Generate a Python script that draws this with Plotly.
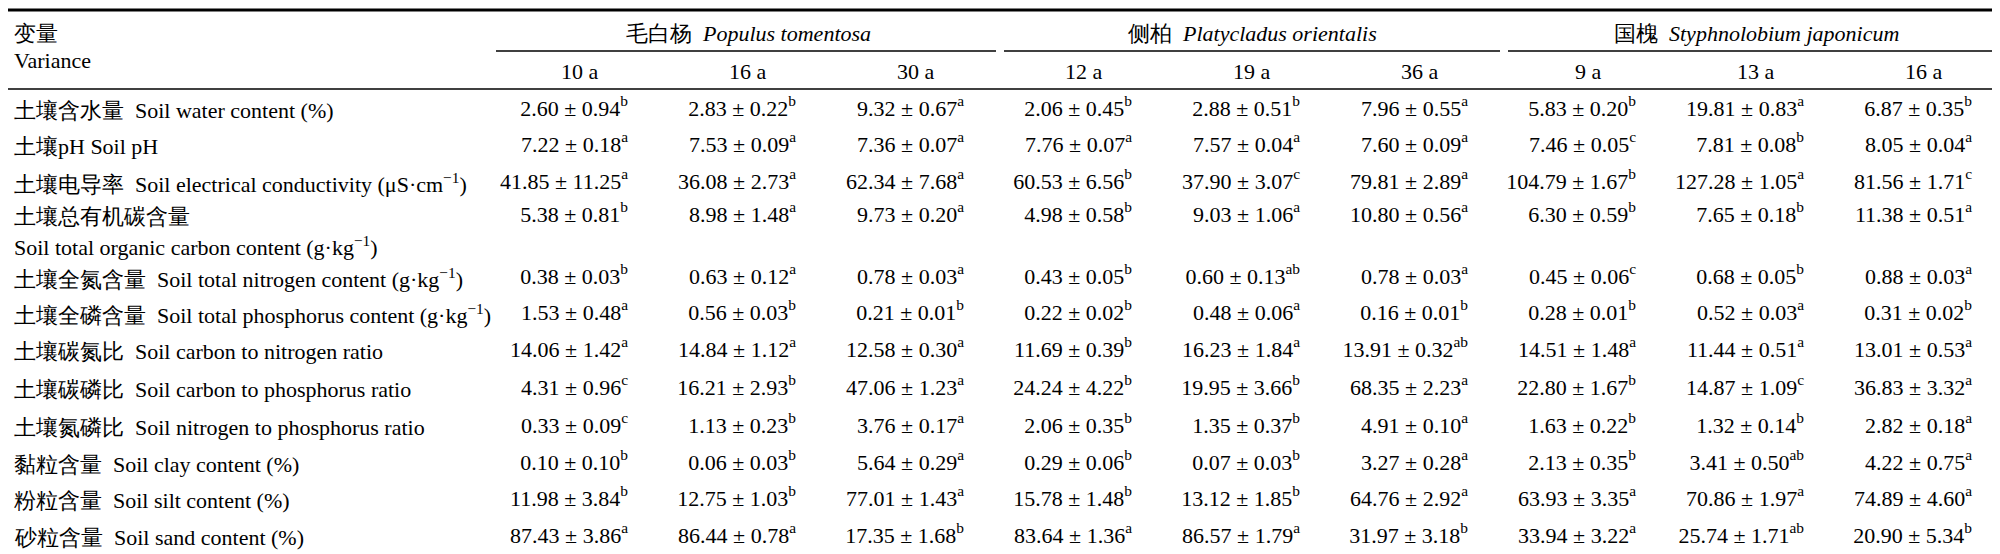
import plotly.graph_objects as go

# table content
SPECIES = [
    "毛白杨\u00a0 <i>Populus tomentosa</i>",
    "侧柏\u00a0 <i>Platycladus orientalis</i>",
    "国槐\u00a0 <i>Styphnolobium japonicum</i>",
]
AGES = ["10 a", "16 a", "30 a", "12 a", "19 a", "36 a", "9 a", "13 a", "16 a"]

VARIABLES = [
    "土壤含水量\u00a0 Soil water content (%)",
    "土壤pH Soil pH",
    "土壤电导率\u00a0 Soil electrical conductivity (μS·cm<sup>−1</sup>)",
    "土壤总有机碳含量",
    "土壤全氮含量\u00a0 Soil total nitrogen content (g·kg<sup>−1</sup>)",
    "土壤全磷含量\u00a0 Soil total phosphorus content (g·kg<sup>−1</sup>)",
    "土壤碳氮比\u00a0 Soil carbon to nitrogen ratio",
    "土壤碳磷比\u00a0 Soil carbon to phosphorus ratio",
    "土壤氮磷比\u00a0 Soil nitrogen to phosphorus ratio",
    "黏粒含量\u00a0 Soil clay content (%)",
    "粉粒含量\u00a0 Soil silt content (%)",
    "砂粒含量\u00a0 Soil sand content (%)",
]
TOC_SECOND_LINE = "Soil total organic carbon content (g·kg<sup>−1</sup>)"

MEANS = [
    [2.60, 2.83, 9.32, 2.06, 2.88, 7.96, 5.83, 19.81, 6.87],
    [7.22, 7.53, 7.36, 7.76, 7.57, 7.60, 7.46, 7.81, 8.05],
    [41.85, 36.08, 62.34, 60.53, 37.90, 79.81, 104.79, 127.28, 81.56],
    [5.38, 8.98, 9.73, 4.98, 9.03, 10.80, 6.30, 7.65, 11.38],
    [0.38, 0.63, 0.78, 0.43, 0.60, 0.78, 0.45, 0.68, 0.88],
    [1.53, 0.56, 0.21, 0.22, 0.48, 0.16, 0.28, 0.52, 0.31],
    [14.06, 14.84, 12.58, 11.69, 16.23, 13.91, 14.51, 11.44, 13.01],
    [4.31, 16.21, 47.06, 24.24, 19.95, 68.35, 22.80, 14.87, 36.83],
    [0.33, 1.13, 3.76, 2.06, 1.35, 4.91, 1.63, 1.32, 2.82],
    [0.10, 0.06, 5.64, 0.29, 0.07, 3.27, 2.13, 3.41, 4.22],
    [11.98, 12.75, 77.01, 15.78, 13.12, 64.76, 63.93, 70.86, 74.89],
    [87.43, 86.44, 17.35, 83.64, 86.57, 31.97, 33.94, 25.74, 20.90],
]
SES = [
    [0.94, 0.22, 0.67, 0.45, 0.51, 0.55, 0.20, 0.83, 0.35],
    [0.18, 0.09, 0.07, 0.07, 0.04, 0.09, 0.05, 0.08, 0.04],
    [11.25, 2.73, 7.68, 6.56, 3.07, 2.89, 1.67, 1.05, 1.71],
    [0.81, 1.48, 0.20, 0.58, 1.06, 0.56, 0.59, 0.18, 0.51],
    [0.03, 0.12, 0.03, 0.05, 0.13, 0.03, 0.06, 0.05, 0.03],
    [0.48, 0.03, 0.01, 0.02, 0.06, 0.01, 0.01, 0.03, 0.02],
    [1.42, 1.12, 0.30, 0.39, 1.84, 0.32, 1.48, 0.51, 0.53],
    [0.96, 2.93, 1.23, 4.22, 3.66, 2.23, 1.67, 1.09, 3.32],
    [0.09, 0.23, 0.17, 0.35, 0.37, 0.10, 0.22, 0.14, 0.18],
    [0.10, 0.03, 0.29, 0.06, 0.03, 0.28, 0.35, 0.50, 0.75],
    [3.84, 1.03, 1.43, 1.48, 1.85, 2.92, 3.35, 1.97, 4.60],
    [3.86, 0.78, 1.68, 1.36, 1.79, 3.18, 3.22, 1.71, 5.34],
]
LETTERS = [
    ["b", "b", "a", "b", "b", "a", "b", "a", "b"],
    ["a", "a", "a", "a", "a", "a", "c", "b", "a"],
    ["a", "a", "a", "b", "c", "a", "b", "a", "c"],
    ["b", "a", "a", "b", "a", "a", "b", "b", "a"],
    ["b", "a", "a", "b", "ab", "a", "c", "b", "a"],
    ["a", "b", "b", "b", "a", "b", "b", "a", "b"],
    ["a", "a", "a", "b", "a", "ab", "a", "a", "a"],
    ["c", "b", "a", "b", "b", "a", "b", "c", "a"],
    ["c", "b", "a", "b", "b", "a", "b", "b", "a"],
    ["b", "b", "a", "b", "b", "a", "b", "ab", "a"],
    ["b", "b", "a", "b", "b", "a", "a", "a", "a"],
    ["a", "a", "b", "a", "a", "b", "a", "ab", "b"],
]

# layout (pixel-like axis units)
W, H = 2000, 554
FONT = "Liberation Serif"
FS = 22
LEFT = 488
COL_W = (W - LEFT) / len(AGES)
ROW_Y = [102, 138, 175, 208, 270, 306, 343, 381, 419, 456, 492, 529]
TOC_Y2 = 238
VAL_PAD = 48

col_x = [LEFT + COL_W * (i + 0.5) for i in range(len(AGES))]

fig = go.Figure()

# value cells as a text trace on the data axes (right-aligned per column)
cell_x, cell_y, cell_t = [], [], []
for r in range(len(VARIABLES)):
    for c in range(len(AGES)):
        cell_x.append(col_x[c] + VAL_PAD)
        cell_y.append(ROW_Y[r])
        cell_t.append(f"{MEANS[r][c]:.2f} ± {SES[r][c]:.2f}<sup>{LETTERS[r][c]}</sup>")
fig.add_trace(go.Scatter(
    x=cell_x, y=cell_y, text=cell_t, mode="text",
    textposition="middle left", hoverinfo="skip",
    textfont=dict(family=FONT, size=FS, color="black"),
))

ann = []


def txt(x, y, s, anchor="left"):
    ann.append(dict(x=x, y=y, xref="x", yref="y", text=s, showarrow=False,
                    xanchor=anchor, yanchor="middle",
                    font=dict(family=FONT, size=FS, color="black")))


txt(4, 25, "变量")
txt(4, 52, "Variance")
for g, name in enumerate(SPECIES):
    txt(LEFT + COL_W * (3 * g + 1.5), 25, name, "center")
for i, a in enumerate(AGES):
    txt(col_x[i], 63, a, "center")
for r, label in enumerate(VARIABLES):
    txt(4, ROW_Y[r], label)
txt(4, TOC_Y2, TOC_SECOND_LINE)

shapes = [
    dict(type="line", x0=0, x1=W, y0=2, y1=2, line=dict(width=3, color="black")),
    dict(type="line", x0=0, x1=W, y0=81, y1=81, line=dict(width=1.6, color="black")),
    dict(type="line", x0=0, x1=W, y0=550, y1=550, line=dict(width=3, color="black")),
]
for g in range(3):
    x0 = LEFT + COL_W * 3 * g + (0 if g == 0 else 4)
    x1 = LEFT + COL_W * 3 * (g + 1) - (0 if g == 2 else 4)
    shapes.append(dict(type="line", x0=x0, x1=x1, y0=43, y1=43,
                       line=dict(width=1.3, color="black")))
for s in shapes:
    s.update(xref="x", yref="y")

fig.update_layout(
    width=W, height=H, autosize=False,
    margin=dict(l=0, r=0, t=0, b=0),
    paper_bgcolor="white", plot_bgcolor="white",
    showlegend=False,
    font=dict(family=FONT, size=FS, color="black"),
    annotations=ann, shapes=shapes,
    xaxis=dict(range=[0, W], visible=False, fixedrange=True),
    yaxis=dict(range=[H, 0], visible=False, fixedrange=True),
)

fig.write_html("out.html", config={"displayModeBar": False})
